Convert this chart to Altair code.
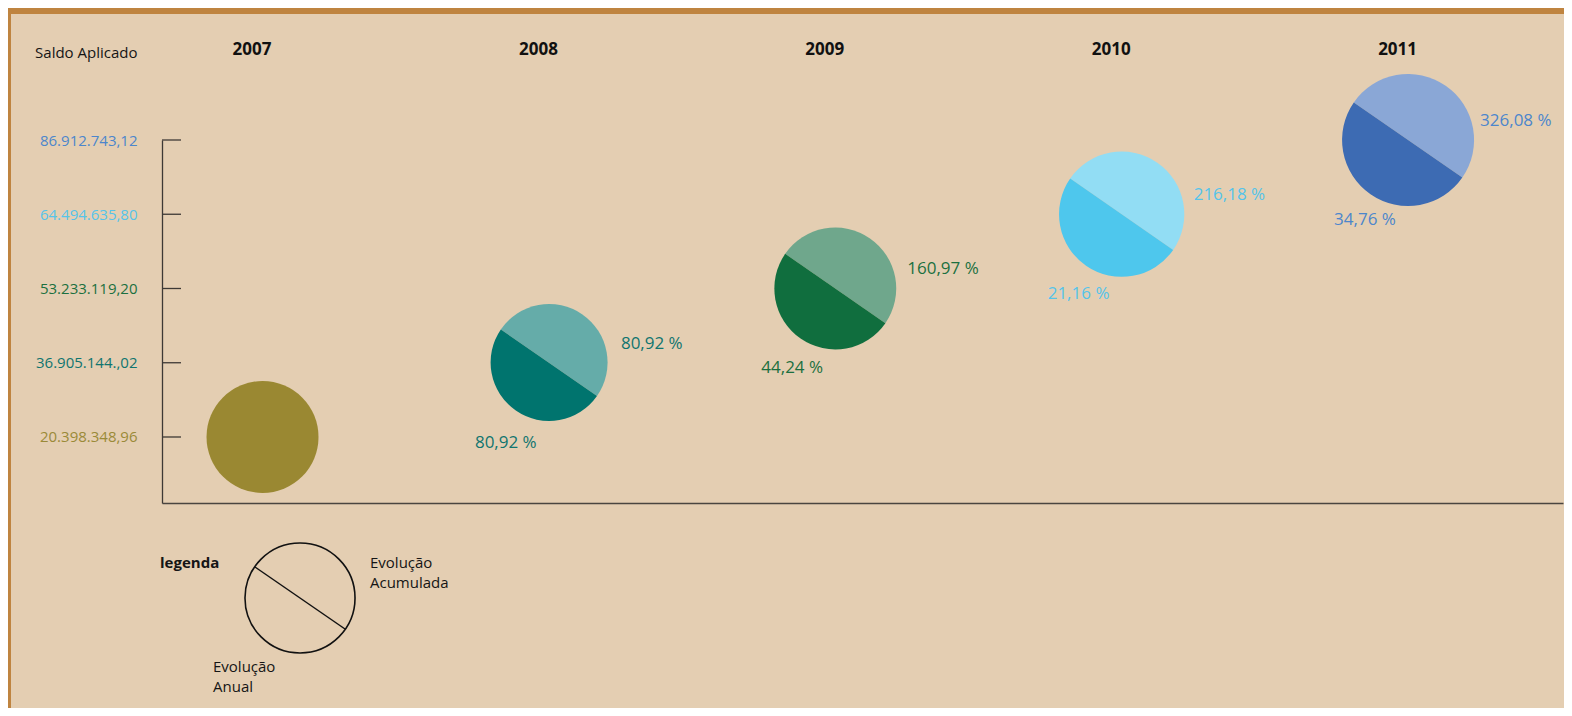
import math
import altair as alt
import pandas as pd

# ---------------- data ----------------
anos = [2007, 2008, 2009, 2010, 2011]
saldos = [20398348.96, 36905144.02, 53233119.20, 64494635.80, 86912743.12]
saldo_rotulos = ["20.398.348,96", "36.905.144.,02", "53.233.119,20", "64.494.635,80", "86.912.743,12"]
evolucao_anual = ["", "80,92 %", "44,24 %", "21,16 %", "34,76 %"]
evolucao_acumulada = ["", "80,92 %", "160,97 %", "216,18 %", "326,08 %"]

# ---------------- styles ----------------
cor_anual = ["#9a8832", "#00746e", "#106e3e", "#4ec7ed", "#3d6bb3"]
cor_acumulada = ["#9a8832", "#65aca9", "#6fa78c", "#92ddf4", "#8aa7d6"]
cor_texto = ["#9a8a38", "#10756f", "#1b7040", "#55c4ea", "#4c86cc"]
FONT = "Open Sans"
BEIGE = "#e4ceb2"
BROWN = "#bf8440"
AXIS_COLOR = "#3d3935"

# order of each saldo on the (evenly spaced) value axis
ordem = sorted(saldos)
nivel = [ordem.index(s) for s in saldos]
rotulo_por_nivel = [saldo_rotulos[saldos.index(s)] for s in ordem]
cor_por_nivel = [cor_texto[saldos.index(s)] for s in ordem]

base = pd.DataFrame({
    "ano": anos,
    "saldo": saldos,
    "nivel": nivel,
    "anual": evolucao_anual,
    "acum": evolucao_acumulada,
    "cor_txt": cor_texto,
})

# halves of each circle, split by a diagonal (upper-right = acumulada, lower-left = anual)
ANG = math.radians(34.7)
T_LR = math.pi / 2 + ANG
T_UL = T_LR + math.pi
rows = []
for i, a in enumerate(anos):
    common = {"ano": a, "saldo": saldos[i], "nivel": nivel[i]}
    if evolucao_anual[i] == "":
        rows.append({**common, "t0": 0.0, "t1": 2 * math.pi, "cor": cor_anual[i]})
    else:
        rows.append({**common, "t0": T_UL, "t1": T_UL + math.pi, "cor": cor_acumulada[i]})
        rows.append({**common, "t0": T_LR, "t1": T_UL, "cor": cor_anual[i]})
metades = pd.DataFrame(rows)

one = pd.DataFrame({"k": [0]})

xs = alt.Scale(domain=[2006.649, 2011.541], nice=False, zero=False)
ys = alt.Scale(domain=[-0.889, 4], nice=False, zero=False)

label_expr = "[" + ",".join("'" + r + "'" for r in rotulo_por_nivel) + "][datum.value]"
color_expr = "[" + ",".join("'" + c + "'" for c in cor_por_nivel) + "][datum.value]"

y_axis = alt.Axis(
    values=list(range(len(saldos))), labelExpr=label_expr,
    labelColor=alt.ExprRef(expr=color_expr), labelFontSize=15, labelFont=FONT,
    labelPadding=25, ticks=False, tickSize=0, grid=False, labelFlush=False,
    labelOverlap=False, domainColor=AXIS_COLOR, domainWidth=1.3,
    title="Saldo Aplicado", titleAngle=0, titleAlign="right", titleBaseline="middle",
    titleX=-25, titleY=-88, titleFontWeight="normal", titleFontSize=15,
    titleFont=FONT, titleColor="#151515", zindex=2,
)
x_bottom = alt.Axis(orient="bottom", labels=False, ticks=False, tickSize=0, grid=False,
                    domainColor="#4a4540", domainWidth=1.6, title=None, zindex=2)
x_top = alt.Axis(orient="top", values=anos, format="d", labelFontWeight="bold",
                 labelFontSize=17, labelFont=FONT, labelColor="#111111",
                 labelPadding=82, labelOffset=-11, ticks=False, tickSize=0,
                 domain=False, grid=False, title=None, labelFlush=False,
                 labelOverlap=False, zindex=2)

bg = alt.Chart(one).mark_rect(fill=BEIGE).encode(
    x=alt.value(-151), x2=alt.value(1402), y=alt.value(-126), y2=alt.value(568)
)

arcs = alt.Chart(metades).mark_arc().encode(
    x=alt.X("ano:Q", scale=xs, axis=x_bottom),
    y=alt.Y("nivel:Q", scale=ys, axis=y_axis),
    theta=alt.Theta("t0:Q", scale=None, stack=False),
    theta2=alt.Theta2("t1"),
    radius=alt.Radius("saldo:Q", scale=alt.Scale(type="linear", zero=False, range=[56, 66])),
    radius2=alt.value(0),
    fill=alt.Fill("cor:N", scale=None),
)

ticks = alt.Chart(base).mark_rule(color=AXIS_COLOR, strokeWidth=1.3).encode(
    x=alt.value(0), x2=alt.value(19), y=alt.Y("nivel:Q", scale=ys)
)

acum_txt = alt.Chart(base).mark_text(
    align="left", baseline="middle", dx=72, dy=-19, fontSize=17, font=FONT
).encode(
    x=alt.X("ano:Q", scale=xs, axis=x_top),
    y=alt.Y("nivel:Q", scale=ys),
    text="acum:N",
    color=alt.Color("cor_txt:N", scale=None),
)

anual_txt = alt.Chart(base).mark_text(
    align="left", baseline="middle", dx=-74, dy=80, fontSize=17, font=FONT
).encode(
    x=alt.X("ano:Q", scale=xs, axis=None),
    y=alt.Y("nivel:Q", scale=ys),
    text="anual:N",
    color=alt.Color("cor_txt:N", scale=None),
)

# ---- custom legend ----
leg_circle = alt.Chart(one).mark_arc(
    radius=55, theta=0, theta2=2 * math.pi, fillOpacity=0, stroke="#111111", strokeWidth=1.6
).encode(x=alt.value(138), y=alt.value(458))

leg_line = alt.Chart(one).mark_rule(stroke="#111111", strokeWidth=1.5).encode(
    x=alt.value(93), y=alt.value(427), x2=alt.value(183), y2=alt.value(489)
)


def leg_text(txt, x, y, bold=False):
    return alt.Chart(one).mark_text(
        text=txt, align="left", baseline="middle", fontSize=15, font=FONT,
        fontWeight="bold" if bold else "normal", color="#151515"
    ).encode(x=alt.value(x), y=alt.value(y))


legend = [
    leg_circle, leg_line,
    leg_text("legenda", -2, 423, bold=True),
    leg_text("Evolução", 208, 423),
    leg_text("Acumulada", 208, 443),
    leg_text("Evolução", 51, 527),
    leg_text("Anual", 51, 547),
]

chart = alt.layer(bg, arcs, ticks, acum_txt, anual_txt, *legend).resolve_axis(
    x="independent"
).properties(
    width=1401, height=363,
    padding={"left": 154, "top": 132, "right": 1, "bottom": 205},
    autosize=alt.AutoSizeParams(type="none"),
    background=BROWN,
).configure_view(stroke="transparent").configure(font=FONT)

chart.save("out.html", embed_options={"renderer": "svg", "actions": False})
